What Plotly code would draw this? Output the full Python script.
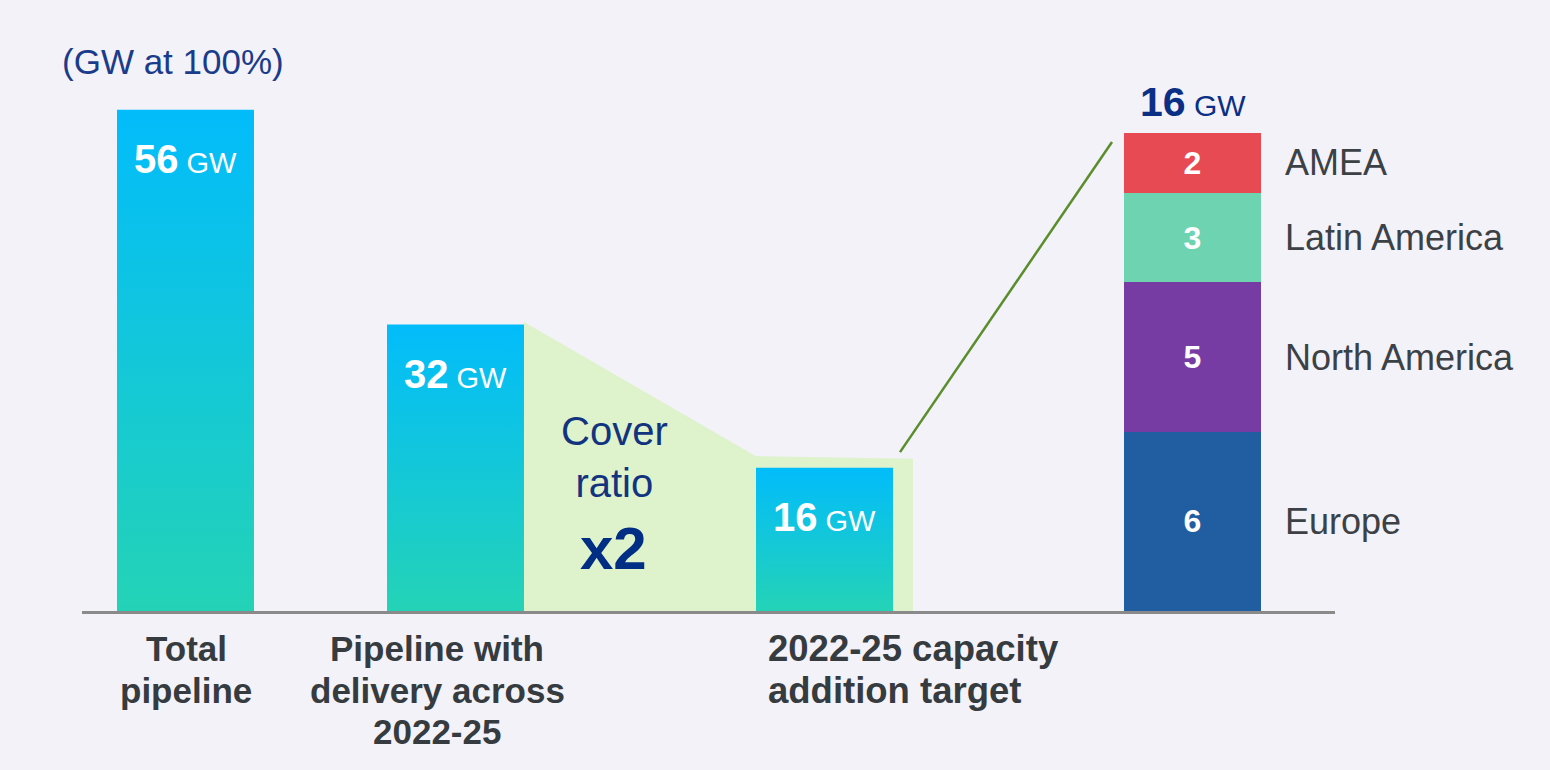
import plotly.graph_objects as go

# ---------------- data ----------------
categories = ["Total pipeline", "Pipeline with delivery across 2022-25", "2022-25 capacity addition target"]
category_lines = [["Total", "pipeline"],
                  ["Pipeline with", "delivery across", "2022-25"],
                  ["2022-25 capacity", "addition target"]]
values = [56, 32, 16]

regions = ["Europe", "North America", "Latin America", "AMEA"]
region_values = [6, 5, 3, 2]

unit_note = "(GW at 100%)"
cover_text = "Cover<br>ratio"
cover_ratio = "x2"

# ---------------- layout helpers (page pixel coordinates) ----------------
FONT = "Liberation Sans, Arial, Helvetica, sans-serif"
PAGE_W, PAGE_H = 1550, 770
OFF = 8                   # page body margin where the figure starts
W, H = PAGE_W - OFF, PAGE_H - OFF
L, R = 82, 1335           # plot area horizontal pixel extent (page coords)
T, B = 40, 611            # plot area vertical pixel extent (page coords)
PX_PER_X = 137.0
XMAX = (R - L) / PX_PER_X
Y1_PX = 8.95              # px per GW (main bars)
Y2_PX = 29.875            # px per GW (zoomed stacked bar)
Y1MAX = (B - T) / Y1_PX
Y2MAX = (B - T) / Y2_PX
PANEL_BG = "#f3f2f8"


def xd(px):
    return (px - L) / PX_PER_X


def xp(px):
    return (px - L) / (R - L)


def yp(py):
    return (B - py) / (B - T)


bar_x = [xd(185.5), xd(455.5), xd(824.5)]
stack_x = xd(1192.5)
bar_w = 1.0

bar_colorscale = [[0, "#24d3b6"], [1, "#02bcfb"]]
region_colors = ["#205da1", "#773ca3", "#6dd3b1", "#e84a53"]
green_fill = "#def2cc"
green_line = "#5a8e2d"
navy = "#0b2f85"
label_gray = "#363b3f"
region_gray = "#3c4146"

fig = go.Figure()

# cover-ratio shaded area between pipeline bar and target bar
pad_top_left = 1.3
pad_top_right = 1.0
ext_right = 20 / PX_PER_X
poly_x = [bar_x[1] + bar_w / 2, bar_x[2] - bar_w / 2, bar_x[2] + bar_w / 2 + ext_right,
          bar_x[2] + bar_w / 2 + ext_right, bar_x[1] + bar_w / 2]
poly_y = [values[1] + 0.3, values[2] + pad_top_left, values[2] + pad_top_right, 0, 0]
fig.add_trace(go.Scatter(x=poly_x, y=poly_y, fill="toself", fillcolor=green_fill,
                         mode="none", hoverinfo="skip", showlegend=False))

# gradient bars
for cx, v in zip(bar_x, values):
    xs = [cx - bar_w / 2, cx + bar_w / 2, cx + bar_w / 2, cx - bar_w / 2, cx - bar_w / 2]
    ys = [0, 0, v, v, 0]
    fig.add_trace(go.Scatter(x=xs, y=ys, fill="toself", mode="none",
                             fillgradient=dict(type="vertical", colorscale=bar_colorscale),
                             hoverinfo="skip", showlegend=False))

# connector line to the zoomed stacked bar
total_regions = sum(region_values)
line_x = [bar_x[2] + bar_w / 2 + 7 / PX_PER_X, stack_x - bar_w / 2 - 12 / PX_PER_X]
line_y = [values[2] + 1.75, total_regions * Y1MAX / Y2MAX - 1.0]
fig.add_trace(go.Scatter(x=line_x, y=line_y, mode="lines",
                         line=dict(color=green_line, width=2.5),
                         hoverinfo="skip", showlegend=False))

# stacked regional bar on secondary scale
for name, v, c in zip(regions, region_values, region_colors):
    fig.add_trace(go.Bar(x=[stack_x], y=[v], width=bar_w, yaxis="y2", name=name,
                         marker=dict(color=c, line=dict(width=0)),
                         text=[f"<b>{v}</b>"], textposition="inside",
                         insidetextanchor="middle", textangle=0,
                         textfont=dict(family=FONT, size=32, color="white"),
                         hoverinfo="skip", showlegend=False))

ann = []
# value labels inside bars
for cx, v in zip(bar_x, values):
    ann.append(dict(x=cx, y=v, xref="x", yref="y", yanchor="middle", xanchor="center",
                    yshift=-49, showarrow=False,
                    text=f"<b>{v}</b><span style='font-size:29px'> GW</span>",
                    font=dict(family=FONT, size=40, color="white")))

# total above stacked bar
ann.append(dict(x=stack_x, y=total_regions, xref="x", yref="y2", yanchor="middle",
                xanchor="center", yshift=31, showarrow=False,
                text=f"<b>{total_regions}</b><span style='font-size:30px'> GW</span>",
                font=dict(family=FONT, size=41, color=navy)))

# region labels
cum = 0
for name, v in zip(regions, region_values):
    ann.append(dict(x=xd(1283), y=cum + v / 2, xref="x", yref="y2", xanchor="left",
                    yanchor="middle", showarrow=False, text=name,
                    font=dict(family=FONT, size=36, color=region_gray)))
    cum += v

# cover ratio text
ann.append(dict(x=xd(614), y=yp(457), xref="x", yref="paper", xanchor="center",
                yanchor="middle", showarrow=False, text=cover_text,
                font=dict(family=FONT, size=40, color="#12347f")))
ann.append(dict(x=xd(613), y=yp(548), xref="x", yref="paper", xanchor="center",
                yanchor="middle", showarrow=False, text=f"<b>{cover_ratio}</b>",
                font=dict(family=FONT, size=60, color="#002e84")))

# unit note
ann.append(dict(x=xp(60), y=yp(62), xref="paper", yref="paper", xanchor="left",
                yanchor="middle", showarrow=False, text=unit_note,
                font=dict(family=FONT, size=35, color="#1b3b8b")))

# category labels (one annotation per line)
label_anchor = [(186, "center", 35), (437, "center", 35), (766, "left", 36.5)]
line_centers = [648, 690, 731]
for lines, (px, anchor, fs) in zip(category_lines, label_anchor):
    for i, txt in enumerate(lines):
        ann.append(dict(x=xd(px), y=yp(line_centers[i]), xref="x", yref="paper",
                        xanchor=anchor, yanchor="middle", showarrow=False,
                        text=f"<b>{txt}</b>",
                        font=dict(family=FONT, size=fs, color=label_gray)))

fig.update_layout(
    width=W, height=H,
    margin=dict(l=L - OFF, r=PAGE_W - R, t=T - OFF, b=PAGE_H - B, pad=0),
    paper_bgcolor=PANEL_BG,
    plot_bgcolor="rgba(0,0,0,0)",
    barmode="stack",
    showlegend=False,
    font=dict(family=FONT),
    xaxis=dict(range=[0, XMAX], showgrid=False, zeroline=False, showticklabels=False,
               ticks="", showline=True, linecolor="#8a8a8a", linewidth=3, fixedrange=True),
    yaxis=dict(range=[0, Y1MAX], visible=False, fixedrange=True),
    yaxis2=dict(range=[0, Y2MAX], overlaying="y", visible=False, fixedrange=True),
    annotations=ann,
)

fig.write_html("out.html",
               post_script=f"document.body.style.background='{PANEL_BG}';"
                           f"document.documentElement.style.background='{PANEL_BG}';")
